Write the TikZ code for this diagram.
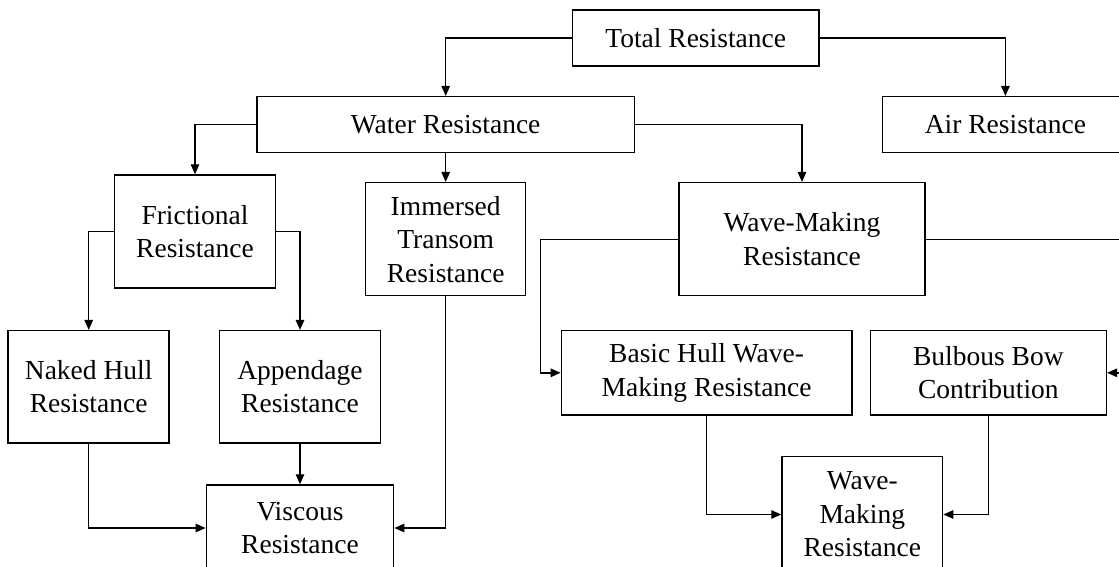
\documentclass[tikz,border=0pt]{standalone}
\usepackage{fontspec}
\setmainfont{Liberation Serif}
\usetikzlibrary{arrows.meta}

\begin{document}
\begin{tikzpicture}[x=1pt,y=-1pt,
  box/.style={draw=black,line width=1.5pt,rectangle,inner sep=0pt,align=center,
    font=\fontsize{27.5}{33.5}\selectfont},
  arr/.style={draw=black,line width=1.4pt,-{Triangle[length=10pt,width=8.5pt]}}]
\useasboundingbox (0,0) rectangle (1119,567);
\clip (0,0) rectangle (1119,567);

% resistance breakdown boxes
\node[box,minimum width=246.5pt,minimum height=56pt]   (tot)   at (695.7,38)    {Total Resistance};
\node[box,minimum width=377.8pt,minimum height=56pt]   (water) at (445.7,124.7) {Water Resistance};
\node[box,minimum width=246pt,minimum height=56pt]     (air)   at (1005.4,124.7){Air Resistance};
\node[box,minimum width=160.8pt,minimum height=113pt]  (fric)  at (195,231.5)   {Frictional\\Resistance};
\node[box,minimum width=160pt,minimum height=113pt]    (imm)   at (445.7,239.2) {Immersed\\Transom\\Resistance};
\node[box,minimum width=246pt,minimum height=113pt]    (wm)    at (802,239.2)   {Wave-Making\\Resistance};
\node[box,minimum width=161pt,minimum height=112.3pt]  (naked) at (88.7,386.8)  {Naked Hull\\Resistance};
\node[box,minimum width=161pt,minimum height=112.3pt]  (app)   at (300,386.8)   {Appendage\\Resistance};
\node[box,minimum width=290.4pt,minimum height=84.3pt] (basic) at (706.6,372.8) {Basic Hull Wave-\\Making Resistance};
\node[box,minimum width=236pt,minimum height=84.3pt]   (bulb)  at (988.4,372.8) {Bulbous Bow\\Contribution};
\node[box,minimum width=187.3pt,minimum height=86pt]   (visc)  at (300,528)     {Viscous\\Resistance};
\node[box,minimum width=160.6pt,minimum height=115.6pt](wm2)   at (862.3,514.5) {Wave-\\Making\\Resistance};

% bends for the wave-making side branches
\coordinate (wmL) at (540.7,239.2);
\coordinate (wmR) at (1127,239.2);

% connectors
\draw[arr] (tot.west) -| (water.north);
\draw[arr] (tot.east) -| (air.north);
\draw[arr] (water.west) -| (fric.north);
\draw[arr] (water.south) -- (imm.north);
\draw[arr] (water.east) -| (wm.north);
\draw[arr] (fric.west) -| (naked.north);
\draw[arr] (fric.east) -| (app.north);
\draw[arr] (naked.south) |- (visc.west);
\draw[arr] (app.south) -- (visc.north);
\draw[arr] (imm.south) |- (visc.east);
\draw[arr] (wm.west) -- (wmL) |- (basic.west);
\draw[arr] (wm.east) -- (wmR) |- (bulb.east);
\draw[arr] (basic.south) |- (wm2.west);
\draw[arr] (bulb.south) |- (wm2.east);
\end{tikzpicture}
\end{document}
